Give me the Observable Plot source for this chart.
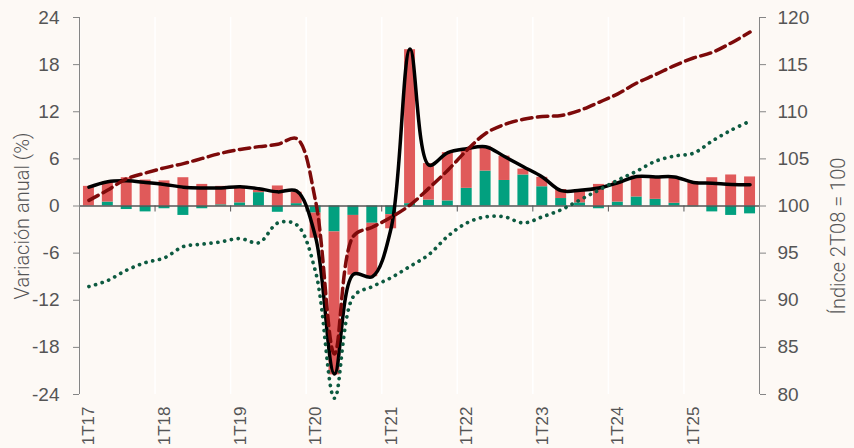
<!DOCTYPE html>
<html><head><meta charset="utf-8">
<script src="https://cdn.jsdelivr.net/npm/d3@7"></script>
<script src="https://cdn.jsdelivr.net/npm/@observablehq/plot@0.6"></script>
<style>
html,body{margin:0;padding:0;background:#fdf9f5;}
#chart svg{display:block;}
</style></head><body><div id="chart"></div>
<script>
const quarters = ["1T17","2T17","3T17","4T17","1T18","2T18","3T18","4T18","1T19","2T19","3T19","4T19",
  "1T20","2T20","3T20","4T20","1T21","2T21","3T21","4T21","1T22","2T22","3T22","4T22",
  "1T23","2T23","3T23","4T23","1T24","2T24","3T24","4T24","1T25","2T25","3T25","4T25"];
const contribGreen = [0.0,0.5,-0.45,-0.75,-0.35,-1.2,-0.35,0.15,0.4,1.7,-0.8,0.3,
  -0.9,-3.3,-1.2,-2.2,-1.1,0.3,0.75,0.65,2.25,4.45,3.25,3.95,
  2.45,0.95,0.4,-0.35,0.5,1.15,0.85,0.35,-0.1,-0.75,-1.2,-1.0];
const contribRed = [2.5,2.6,3.6,3.3,3.2,3.6,2.75,2.35,2.1,0.3,2.55,1.45,
  -3.2,-18.2,-7.6,-6.8,-1.8,19.6,4.65,6.15,5.0,3.15,3.1,0.75,
  1.2,1.15,1.6,2.75,2.6,2.65,2.75,3.25,3.1,3.6,3.95,3.7];
const totalLine = [2.4,3.1,3.2,3.0,2.75,2.4,2.3,2.3,2.45,2.2,1.8,1.9,
  -4.0,-21.4,-8.7,-9.0,-2.8,20.0,5.2,6.8,7.3,7.55,6.3,5.0,
  3.7,1.95,2.0,2.3,2.95,3.75,3.7,3.7,3.0,2.9,2.75,2.7];
const indexDashed = [100.6,101.7,102.9,103.5,104.05,104.5,105.05,105.6,106.0,106.3,106.55,107.15,
  100.5,84.3,96.8,97.75,98.8,100.1,101.9,103.8,105.9,107.7,108.65,109.2,
  109.5,109.6,110.15,111.0,111.9,113.05,113.95,114.9,115.7,116.3,117.3,118.45];
const indexDotted = [91.45,92.1,93.2,94.0,94.5,95.7,95.95,96.2,96.55,96.1,98.2,98.0,
  93.0,79.6,90.4,91.45,92.4,93.6,94.85,96.8,98.2,98.85,98.85,98.2,
  98.85,99.6,100.65,101.7,102.75,103.7,104.75,105.3,105.6,106.9,108.05,109.0];
const leftTicks = [-24,-18,-12,-6,0,6,12,18,24];
const rightTicks = [80,85,90,95,100,105,110,115,120];
const leftTitle = "Variación anual (%)";
const rightTitle = "Índice 2T08 = 100";

const yearStarts = quarters.filter(q => q.startsWith("1T"));
const toLeft = v => (v - 100) * 1.2;
const fromLeft = v => v / 1.2 + 100;

const bars = quarters.flatMap((q, i) => [
  {q, comp: "verde", v: contribGreen[i]},
  {q, comp: "rojo", v: contribRed[i]}
]);
const rows = quarters.map((q, i) => ({q, total: totalLine[i], dashed: toLeft(indexDashed[i]), dotted: toLeft(indexDotted[i])}));

const W = 854, H = 448, mL = 79, mR = 95, mT = 17, mB = 54;
const step = (W - mL - mR) / quarters.length;
const pxPerUnit = (H - mT - mB) / 48;
const tickFont = "'Liberation Sans Narrow', 'Arial Narrow', sans-serif";
const titleFont = "Roboto, sans-serif";

const chart = Plot.plot({
  width: W, height: H,
  marginLeft: mL, marginRight: mR, marginTop: mT, marginBottom: mB,
  style: {background: "#fdf9f5", fontFamily: tickFont, fontSize: "19px", color: "#555"},
  x: {type: "band", domain: quarters, paddingInner: 0.42, paddingOuter: 0.21, align: 0.5, axis: null},
  y: {domain: [-24, 24], axis: null},
  color: {domain: ["verde", "rojo"], range: ["#02a07f", "#e05a5a"]},
  marks: [
    Plot.ruleX(yearStarts, {dx: -step / 2, stroke: "#ffffff", strokeWidth: 1.5}),
    Plot.barY(bars, {x: "q", y: "v", fill: "comp"}),
    Plot.ruleY([0], {stroke: "#555", strokeWidth: 1.3}),
    Plot.ruleX(yearStarts, {x: d => d, y1: 0, y2: -6 / pxPerUnit, dx: -step / 2, stroke: "#555"}),
    Plot.ruleX([quarters[0]], {dx: -step / 2, stroke: "#858585"}),
    Plot.ruleX([quarters[quarters.length - 1]], {dx: step / 2, stroke: "#858585"}),
    Plot.axisY({ticks: leftTicks, tickFormat: d => String(d), anchor: "left", tickSize: 6, tickPadding: 14, label: null, stroke: "#858585"}),
    Plot.axisY({ticks: rightTicks.map(toLeft), tickFormat: d => String(Math.round(fromLeft(d))), anchor: "right", tickSize: 6, tickPadding: 12, label: null, stroke: "#858585"}),
    Plot.axisX({ticks: yearStarts, tickRotate: -90, tickSize: 0, tickPadding: 12, anchor: "bottom", label: null, fontSize: 17}),
    Plot.line(rows, {x: "q", y: "total", stroke: "#000", strokeWidth: 3.5, curve: "catmull-rom"}),
    Plot.line(rows, {x: "q", y: "dotted", stroke: "#0d5a40", strokeWidth: 3.7, strokeDasharray: "0.1 6.8", strokeLinecap: "round", curve: "catmull-rom"}),
    Plot.line(rows, {x: "q", y: "dashed", stroke: "#7d0a0a", strokeWidth: 3.5, strokeDasharray: "10.5 5.5", curve: "catmull-rom"}),
    Plot.text([leftTitle], {frameAnchor: "left", textAnchor: "middle", dx: -57, dy: 10, rotate: -90, fontFamily: titleFont, fontWeight: 300, fontSize: 20, fill: "#555"}),
    Plot.text([rightTitle], {frameAnchor: "right", textAnchor: "middle", dx: 79, dy: 30, rotate: -90, fontFamily: titleFont, fontWeight: 300, fontSize: 20, fill: "#555"})
  ]
});
document.getElementById("chart").append(chart);
</script>
</body></html>
